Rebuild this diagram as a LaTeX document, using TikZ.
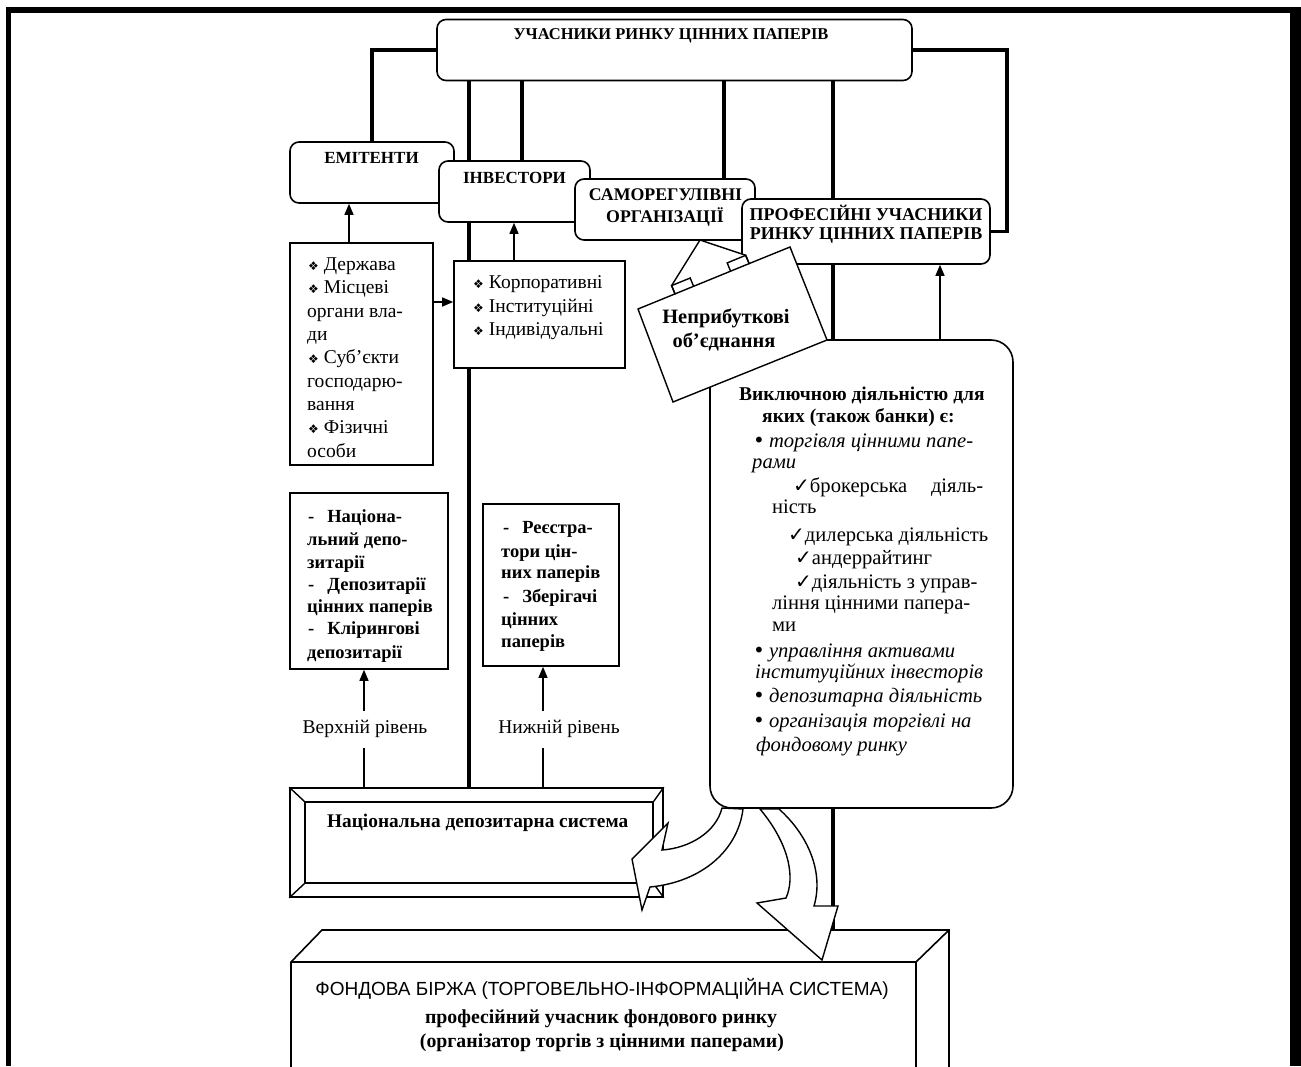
\documentclass[tikz,border=0pt]{standalone}
\usepackage{fontspec}
\usepackage{graphicx}
\setmainfont{Liberation Serif}
\newfontfamily\sansf{Liberation Sans}
\newfontfamily\symf{DejaVu Sans}
\usetikzlibrary{arrows.meta,calc}
\newcommand\dia{{\symf\fontsize{12}{12}\selectfont ❖}\hspace{5pt}}
\newcommand\chk{{\symf\fontsize{20}{20}\selectfont ✓}}
\newcommand\bul{{\symf\upshape\fontsize{20}{20}\selectfont •}\hspace{4pt}}
\begin{document}
\begin{tikzpicture}[x=1pt,y=-1pt,
  conn/.style={line width=3.2pt},
  thinl/.style={line width=1.4pt},
  arr/.style={line width=1.4pt,-{Triangle[length=11pt,width=9pt]}},
  sbox/.style={draw,line width=1.6pt,fill=white,inner sep=0},
  rbox/.style={sbox,rounded corners=9pt},
  txt/.style={inner sep=0,anchor=base west,font=\fontsize{19.5}{22}\selectfont},
  btxt/.style={inner sep=0,anchor=base west,font=\bfseries\fontsize{18.5}{22}\selectfont},
  ttl/.style={inner sep=0,anchor=base,font=\bfseries\fontsize{17}{20}\selectfont},
  bbt/.style={inner sep=0,anchor=base west,font=\bfseries\fontsize{19.5}{22}\selectfont},
  brt/.style={inner sep=0,anchor=base west,font=\fontsize{20.6}{22}\selectfont},
  bit/.style={inner sep=0,anchor=base west,font=\itshape\fontsize{20.6}{22}\selectfont}]
\useasboundingbox (0,0) rectangle (1301,1066);
% frame
\fill (6,7) rectangle (1301,13);
\fill (6,7) rectangle (11,1066);
\fill (1290,7) rectangle (1301,1066);

% helper x coordinates
\coordinate (x469) at (469,0);
\coordinate (x522) at (522,0);
\coordinate (x724) at (724,0);
\coordinate (x833) at (833,0);
\coordinate (x349) at (349,0);
\coordinate (x514) at (514,0);
\coordinate (x940) at (940,0);
\coordinate (x364) at (364,0);
\coordinate (x543) at (543,0);
\coordinate (y302) at (0,302);
\coordinate (rx) at (1007,140);

% boxes
\node[rbox,minimum width=475,minimum height=61] (top) at (674.5,50) {};
\node[rbox,minimum width=164,minimum height=61] (emit) at (372,172.5) {};
\node[rbox,minimum width=151,minimum height=61] (inv) at (514.5,191.5) {};
\node[rbox,minimum width=180,minimum height=61] (samo) at (665,209.5) {};
\node[rbox,minimum width=248,minimum height=65] (prof) at (866,231.5) {};
\node[sbox,minimum width=143,minimum height=222] (dz) at (361.5,354) {};
\node[sbox,minimum width=171,minimum height=107] (korp) at (539.5,314.5) {};
\node[sbox,minimum width=158,minimum height=176] (natd) at (369,581) {};
\node[sbox,minimum width=136,minimum height=162] (reestr) at (551,585) {};
\node[sbox,rounded corners=22pt,minimum width=303,minimum height=468] (big) at (861.5,574) {};
% national depository system (bevelled)
\node[sbox,minimum width=373,minimum height=109] (nds) at (476.5,842.5) {};
\node[draw,line width=1.4pt,inner sep=0,minimum width=348,minimum height=81] (ndsi) at (479,842.5) {};
\draw[thinl] (nds.north west) -- (ndsi.north west) (nds.north east) -- (ndsi.north east)
  (nds.south west) -- (ndsi.south west) (nds.south east) -- (ndsi.south east);

% prism
\coordinate (pfl) at (291,962);
\coordinate (pfr) at (916,962);
\coordinate (pbl) at (322,930);
\coordinate (pbr) at (949,930);
\coordinate (pfbl) at (291,1070);
\coordinate (pfbr) at (916,1070);
\coordinate (pbbr) at (949,1070);
\filldraw[fill=white,line width=1.6pt] (pfbl) -- (pfl) -- (pbl) -- (pbr) -- (pbbr);
\draw[line width=1.6pt] (pfl) -- (pfr) -- (pbr) (pfr) -- (pfbr);

% connectors
\draw[conn] (top.west) -| (emit.north);
\draw[conn] (top.east) -| (rx) |- (prof.east);
\draw[conn] (top.south -| x469) -- (inv.north -| x469);
\draw[conn] (inv.south -| x469) -- (korp.north -| x469);
\draw[conn] (korp.south -| x469) -- (nds.north -| x469);
\draw[conn] (top.south -| x522) -- (inv.north -| x522);
\draw[conn] (top.south -| x724) -- (samo.north -| x724);
\draw[conn] (top.south -| x833) -- (prof.north -| x833);
\draw[conn] (prof.south -| x833) -- (big.north -| x833);
\draw[conn] (big.south -| x833) -- (pbl -| x833);
\draw[arr] (dz.north -| x349) -- (emit.south -| x349);
\draw[arr] (korp.north -| x514) -- (inv.south -| x514);
\draw[arr] (dz.east |- y302) -- (korp.west |- y302);
\draw[arr] (big.north -| x940) -- (prof.south -| x940);

% level labels
\node[inner sep=0,anchor=base,font=\fontsize{19.5}{22}\selectfont] (vr) at (365,733) {Верхній рівень};
\node[inner sep=0,anchor=base,font=\fontsize{19.5}{22}\selectfont] (nr) at (559,733) {Нижній рівень};
\coordinate (vra) at ($(vr.north -| x364)+(0,-8)$);
\coordinate (vrb) at ($(vr.south -| x364)+(0,11)$);
\coordinate (nra) at ($(nr.north -| x543)+(0,-8)$);
\coordinate (nrb) at ($(nr.south -| x543)+(0,11)$);
\draw[arr] (vra) -- (natd.south -| x364);
\draw[thinl] (nds.north -| x364) -- (vrb);
\draw[arr] (nra) -- (reestr.south -| x543);
\draw[thinl] (nds.north -| x543) -- (nrb);

% callout (non-profit associations)
\filldraw[fill=white,line width=1.4pt] (638,309) -- (675,293.9) -- (671.6,285.6) -- (700,240) -- (745.7,255.3) -- (749.1,263.6) -- (790,247) -- (827,340) -- (673,402) -- cycle;
\draw[line width=1.4pt] (675,293.9) -- (671.6,285.6) -- (690.2,278) -- (693.6,286.3);
\draw[line width=1.4pt] (730.6,271.2) -- (727.2,262.9) -- (745.7,255.3) -- (749.1,263.6);
\draw[line width=1.4pt] (675,293.9) -- (749.1,263.6);

% curved block arrows
\filldraw[fill=white,line width=1.4pt] (722,808) .. controls (716,832) and (690,848) .. (662,850)
  -- (668,823) -- (632,859) -- (642,910) -- (650,887)
  .. controls (702,882) and (738,850) .. (743,809) -- cycle;
\filldraw[fill=white,line width=1.4pt] (760,809) .. controls (790,845) and (795,878) .. (786,898)
  -- (757,903) -- (822,960) -- (838,906) -- (814,906)
  .. controls (824,872) and (808,835) .. (779,809) -- cycle;

% texts
\node[ttl,font=\bfseries\fontsize{16.5}{20}\selectfont] (tt) at (671,39) {УЧАСНИКИ РИНКУ ЦІННИХ ПАПЕРІВ};
\node[ttl] (te) at (371.5,163) {ЕМІТЕНТИ};
\node[ttl] (ti) at (514.5,183) {ІНВЕСТОРИ};
\node[ttl,font=\bfseries\fontsize{17.8}{20}\selectfont] (ts1) at (665.5,200) {САМОРЕГУЛІВНІ};
\node[ttl,font=\bfseries\fontsize{17.8}{20}\selectfont] (ts2) at (665,222) {ОРГАНІЗАЦІЇ};
\node[ttl,font=\bfseries\fontsize{18}{20}\selectfont] (tp1) at (866,220) {ПРОФЕСІЙНІ УЧАСНИКИ};
\node[ttl,font=\bfseries\fontsize{18}{20}\selectfont] (tp2) at (866,239) {РИНКУ ЦІННИХ ПАПЕРІВ};

\node[txt] (d1) at (308,270) {\dia Держава};
\node[txt] (d2) at (308,293) {\dia Місцеві};
\node[txt] (d3) at (307,317) {органи вла-};
\node[txt] (d4) at (307,340) {ди};
\node[txt] (d5) at (308,363) {\dia Суб'єкти};
\node[txt] (d6) at (307,387) {господарю-};
\node[txt] (d7) at (307,410) {вання};
\node[txt] (d8) at (308,433) {\dia Фізичні};
\node[txt] (d9) at (307,457) {особи};

\node[txt] (k1) at (473,288) {\dia Корпоративні};
\node[txt] (k2) at (473,312) {\dia Інституційні};
\node[txt] (k3) at (473,335) {\dia Індивідуальні};

\node[btxt] (n1) at (308,522) {-\hspace{13pt}Націона-};
\node[btxt] (n2) at (307,545) {льний депо-};
\node[btxt] (n3) at (307,568) {зитарії};
\node[btxt] (n4) at (308,590) {-\hspace{13pt}Депозитарії};
\node[btxt] (n5) at (307,612) {цінних паперів};
\node[btxt] (n6) at (308,634) {-\hspace{13pt}Клірингові};
\node[btxt] (n7) at (307,658) {депозитарії};

\node[btxt] (r1) at (503,533) {-\hspace{13pt}Реєстра-};
\node[btxt] (r2) at (501,557) {тори цін-};
\node[btxt] (r3) at (501,578) {них паперів};
\node[btxt] (r4) at (503,602) {-\hspace{13pt}Зберігачі};
\node[btxt] (r5) at (501,625) {цінних};
\node[btxt] (r6) at (501,647) {паперів};

\node[inner sep=0,anchor=base,font=\bfseries\fontsize{20.4}{22}\selectfont] (np1) at (726,323) {Неприбуткові};
\node[inner sep=0,anchor=base,font=\bfseries\fontsize{20.4}{22}\selectfont] (np2) at (724,347) {об'єднання};

\node[bbt] (b1) at (739,400) {Виключною діяльністю для};
\node[bbt] (b2) at (762,422) {яких (також банки) є:};
\node[bit] (b3) at (753,447) {\bul торгівля цінними папе-};
\node[bit] (b4) at (752,468) {рами};
\node[brt] (b5) at (793,492) {\makebox[190pt][s]{\chk брокерська діяль-}};
\node[brt] (b6) at (772,513) {ність};
\node[brt] (b7) at (788,541) {\chk дилерська діяльність};
\node[brt] (b8) at (795,564) {\chk андеррайтинг};
\node[brt] (b9) at (795,588) {\chk діяльність з управ-};
\node[brt] (b10) at (772,609) {ління цінними папера-};
\node[brt] (b11) at (772,631) {ми};
\node[bit] (b12) at (753,657) {\bul управління активами};
\node[bit] (b13) at (755,678) {інституційних інвесторів};
\node[bit] (b14) at (753,702) {\bul депозитарна діяльність};
\node[bit] (b15) at (753,727) {\bul організація торгівлі на};
\node[bit] (b16) at (756,751) {фондовому ринку};

\node[inner sep=0,anchor=base west,font=\bfseries\fontsize{19.3}{22}\selectfont] (ndt) at (327,827) {Національна депозитарна система};

\node[inner sep=0,anchor=base,font=\sansf\fontsize{19}{22}\selectfont] (fb1) at (602,995) {ФОНДОВА БІРЖА (ТОРГОВЕЛЬНО-ІНФОРМАЦІЙНА СИСТЕМА)};
\node[ttl,font=\bfseries\fontsize{19.8}{22}\selectfont] (fb2) at (601,1023) {професійний учасник фондового ринку};
\node[ttl,font=\bfseries\fontsize{19.8}{22}\selectfont] (fb3) at (602,1047) {(організатор торгів з цінними паперами)};
\end{tikzpicture}
\end{document}
